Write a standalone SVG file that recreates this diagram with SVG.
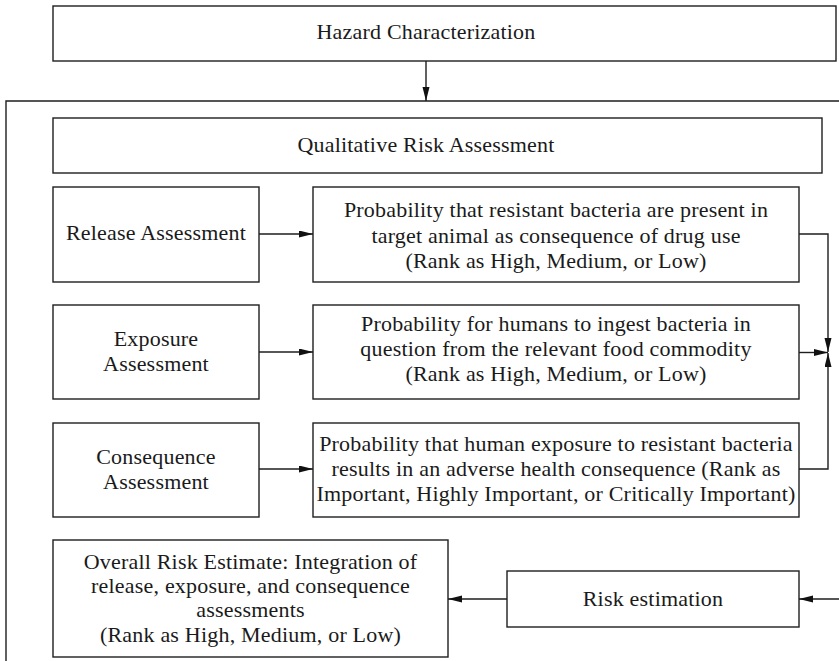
<svg xmlns="http://www.w3.org/2000/svg" width="839" height="661" viewBox="0 0 839 661">
<style>
.box{fill:#fff;stroke:#1e1e1e;stroke-width:1.4}
.t{font-family:"Liberation Serif","Times New Roman",serif;font-size:22px;letter-spacing:0.2px;fill:#1a1a1a;text-anchor:middle}
.c{fill:none;stroke:#1e1e1e;stroke-width:1.4}
</style>
<defs>
<marker id="ah" markerUnits="userSpaceOnUse" markerWidth="15" markerHeight="8" refX="14" refY="3.5" orient="auto">
<path d="M0,0 L14,3.5 L0,7 z" fill="#111"/>
</marker>
</defs>
<rect width="839" height="661" fill="#fff"/>
<g id="hazard"><rect class="box" x="53" y="6" width="783" height="55"/><text class="t" x="426" y="39">Hazard Characterization</text></g>
<g id="frame"><path class="c" d="M6,661 V101 H840"/></g>
<g id="qualitative"><rect class="box" x="53" y="118" width="769" height="55"/><text class="t" x="426" y="151.5">Qualitative Risk Assessment</text></g>
<g id="release"><rect class="box" x="53" y="187" width="206" height="95"/><text class="t" x="156" y="240">Release Assessment</text></g>
<g id="release-prob"><rect class="box" x="313" y="187" width="486" height="95"/><text class="t" x="556" y="217">Probability that resistant bacteria are present in</text><text class="t" x="556" y="243">target animal as consequence of drug use</text><text class="t" x="556" y="268">(Rank as High, Medium, or Low)</text></g>
<g id="exposure"><rect class="box" x="53" y="305" width="206" height="94"/><text class="t" x="156" y="345.5">Exposure</text><text class="t" x="156" y="370.5">Assessment</text></g>
<g id="exposure-prob"><rect class="box" x="313" y="305" width="486" height="94"/><text class="t" x="556" y="330.5">Probability for humans to ingest bacteria in</text><text class="t" x="556" y="356">question from the relevant food commodity</text><text class="t" x="556" y="381">(Rank as High, Medium, or Low)</text></g>
<g id="consequence"><rect class="box" x="53" y="423" width="206" height="94"/><text class="t" x="156" y="464">Consequence</text><text class="t" x="156" y="489">Assessment</text></g>
<g id="consequence-prob"><rect class="box" x="313" y="423" width="486" height="94"/><text class="t" x="556" y="450.5">Probability that human exposure to resistant bacteria</text><text class="t" x="556" y="475.5">results in an adverse health consequence (Rank as</text><text class="t" x="556" y="500.5">Important, Highly Important, or Critically Important)</text></g>
<g id="overall"><rect class="box" x="53" y="540" width="395" height="117"/><text class="t" x="250.5" y="569">Overall Risk Estimate: Integration of</text><text class="t" x="250.5" y="593">release, exposure, and consequence</text><text class="t" x="250.5" y="617">assessments</text><text class="t" x="250.5" y="641.5">(Rank as High, Medium, or Low)</text></g>
<g id="risk-estimation"><rect class="box" x="507" y="571" width="292" height="56"/><text class="t" x="653" y="605.5">Risk estimation</text></g>
<g id="connectors">
<path class="c" d="M426,61 V101" marker-end="url(#ah)"/>
<path class="c" d="M259,234 H313" marker-end="url(#ah)"/>
<path class="c" d="M259,352 H313" marker-end="url(#ah)"/>
<path class="c" d="M259,469 H313" marker-end="url(#ah)"/>
<path class="c" d="M799,234 H828 V352" marker-end="url(#ah)"/>
<path class="c" d="M799,352.5 H828" marker-end="url(#ah)"/>
<path class="c" d="M799,469 H828 V353" marker-end="url(#ah)"/>
<path class="c" d="M840,599 H799" marker-end="url(#ah)"/>
<path class="c" d="M507,599 H448" marker-end="url(#ah)"/>
</g>
</svg>
